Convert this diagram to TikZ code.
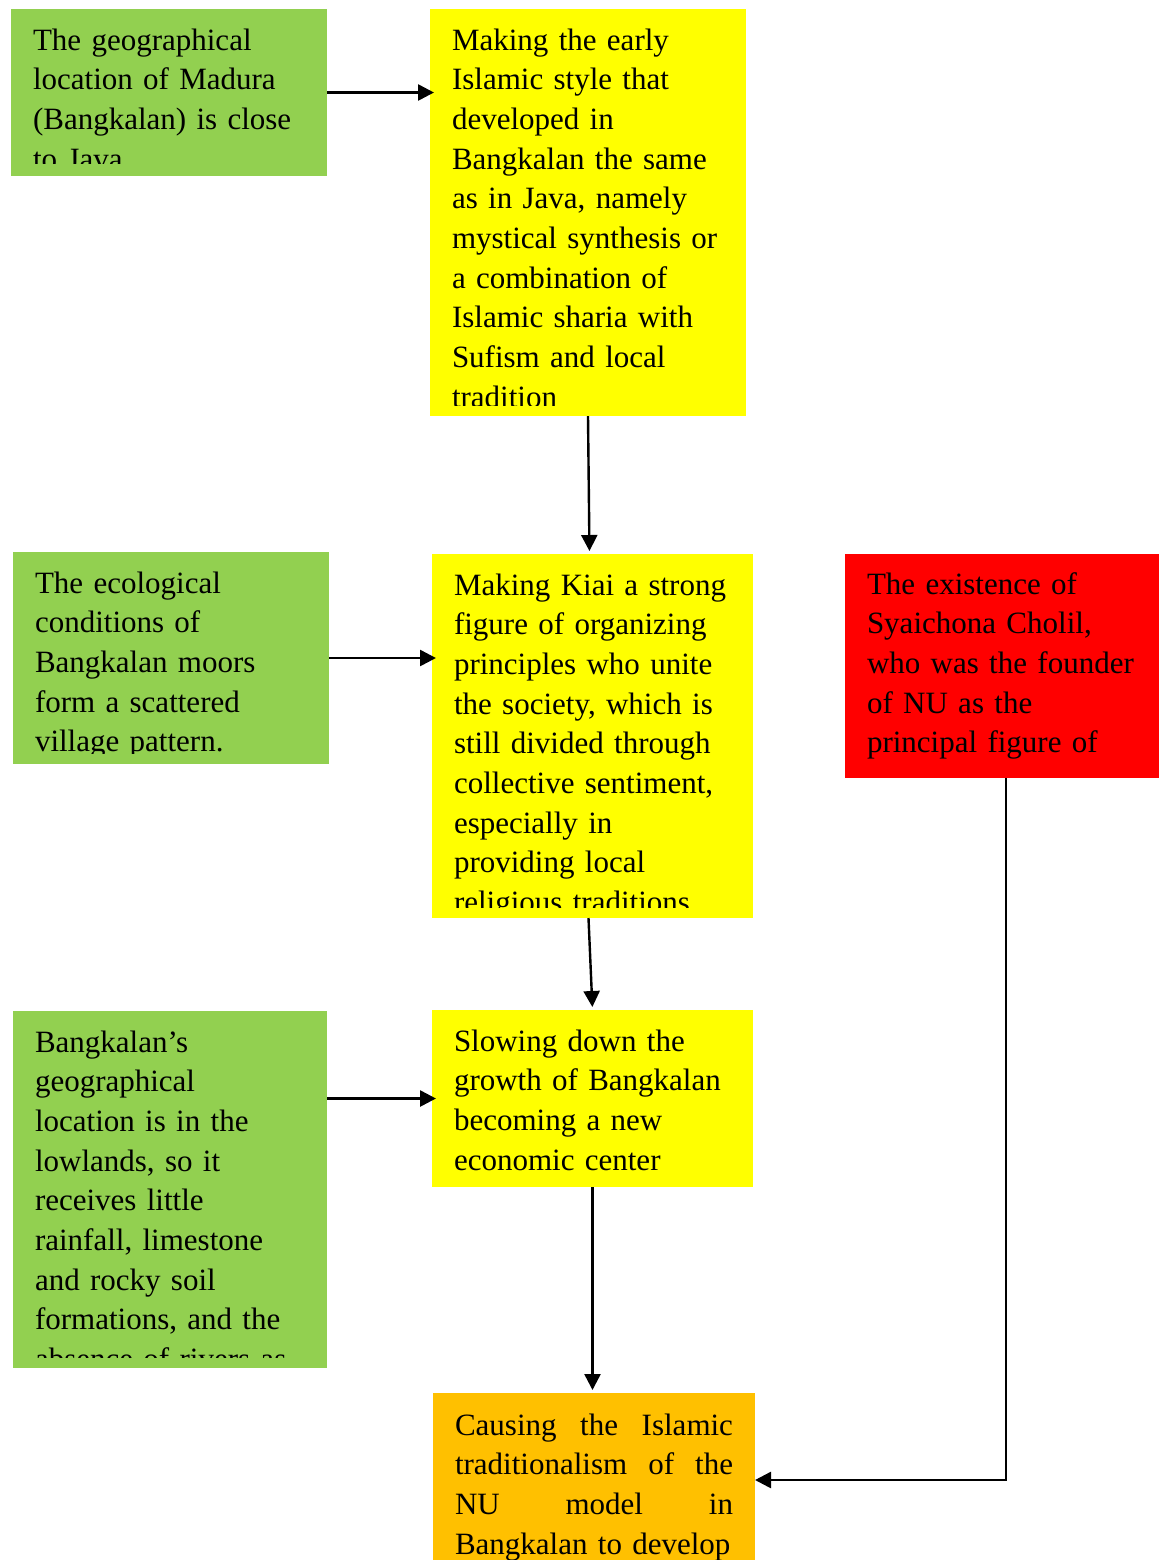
\documentclass[tikz,border=0pt]{standalone}
\usepackage{fontspec}
\setmainfont{Liberation Serif}
\usetikzlibrary{arrows.meta}
\definecolor{cgreen}{HTML}{92D050}
\definecolor{cyellow}{HTML}{FFFF00}
\definecolor{cred}{HTML}{FF0000}
\definecolor{corange}{HTML}{FFC000}
\begin{document}
\begin{tikzpicture}[x=0.5pt,y=-0.5pt,
  box/.style={anchor=north west, inner sep=0pt, outer sep=0pt, draw=none},
  txt/.style={anchor=base west, inner sep=0pt, outer sep=0pt, align=left, text width=200pt,
    font=\fontsize{15.5}{19.85}\selectfont},
  arr/.style={line width=1.3pt, shorten >=-2pt, -{Triangle[length=8pt,width=8pt]}},
  varr/.style={line width=1.2pt, shorten >=1.5pt, -{Triangle[length=8pt,width=8pt]}}]
\useasboundingbox (0,0) rectangle (1159,1560);
% boxes
\node[box, fill=cgreen,  minimum width=158pt,   minimum height=83.5pt]  (g1) at (11,9) {};
\node[box, fill=cyellow, minimum width=158pt,   minimum height=203.5pt] (y1) at (430,9) {};
\node[box, fill=cgreen,  minimum width=158pt,   minimum height=106pt]   (g2) at (13,552) {};
\node[box, fill=cyellow, minimum width=160.5pt, minimum height=182pt]   (y2) at (432,554) {};
\node[box, fill=cred,    minimum width=157pt,   minimum height=112pt]   (r)  at (845,554) {};
\node[box, fill=cyellow, minimum width=160.5pt, minimum height=88.5pt]  (y3) at (432,1010) {};
\node[box, fill=cgreen,  minimum width=157pt,   minimum height=178.5pt] (g3) at (13,1011) {};
\node[box, fill=corange, minimum width=161pt,   minimum height=87pt]    (o)  at (433,1393) {};
% texts
\begin{scope}
\clip (11,9) rectangle (327,163);
\node[txt] (tg1) at (33,50) {The geographical\\location of Madura\\(Bangkalan) is close\\to Java};
\end{scope}
\begin{scope}
\clip (430,9) rectangle (746,405);
\node[txt] (ty1) at (452,50) {Making the early\\Islamic style that\\developed in\\Bangkalan the same\\as in Java, namely\\mystical synthesis or\\a combination of\\Islamic sharia with\\Sufism and local\\tradition};
\end{scope}
\begin{scope}
\clip (13,552) rectangle (329,753);
\node[txt] (tg2) at (35,593) {The ecological\\conditions of\\Bangkalan moors\\form a scattered\\village pattern.};
\end{scope}
\begin{scope}
\clip (432,554) rectangle (753,907);
\node[txt] (ty2) at (454,595) {Making Kiai a strong\\figure of organizing\\principles who unite\\the society, which is\\still divided through\\collective sentiment,\\especially in\\providing local\\religious traditions};
\end{scope}
\begin{scope}
\clip (845,554) rectangle (1159,778);
\node[txt] (tr) at (867,594) {The existence of\\Syaichona Cholil,\\who was the founder\\of NU as the\\principal figure of};
\end{scope}
\node[txt] (ty3) at (454,1051) {Slowing down the\\growth of Bangkalan\\becoming a new\\economic center};
\begin{scope}
\clip (13,1011) rectangle (327,1357);
\node[txt] (tg3) at (35,1052) {Bangkalan’s\\geographical\\location is in the\\lowlands, so it\\receives little\\rainfall, limestone\\and rocky soil\\formations, and the\\absence of rivers as};
\end{scope}
\begin{scope}
\clip (433,1393) rectangle (755,1560);
\node[txt, text width=139pt] (to) at (455,1435) {\makebox[139pt]{Causing\hfill the\hfill Islamic}\\\makebox[139pt]{traditionalism\hfill of\hfill the}\\\makebox[139pt]{NU\hfill model\hfill in}\\Bangkalan to develop};
\end{scope}
% connectors
\draw[arr] (g1.east) -- (y1.west |- g1.east);
\draw[varr] (y1.south) -- ([xshift=-1.5pt]y2.north);
\draw[arr] (g2.east) -- (y2.west |- g2.east);
\draw[varr] ([xshift=-2pt]y2.south) -- (y3.north);
\draw[arr] (g3.east |- y3.west) -- (y3.west);
\draw[varr] (y3.south) -- (y3.south |- o.north);
\draw[arr, shorten >=0pt] ([xshift=2pt]r.south) |- (o.east);
\end{tikzpicture}
\end{document}
